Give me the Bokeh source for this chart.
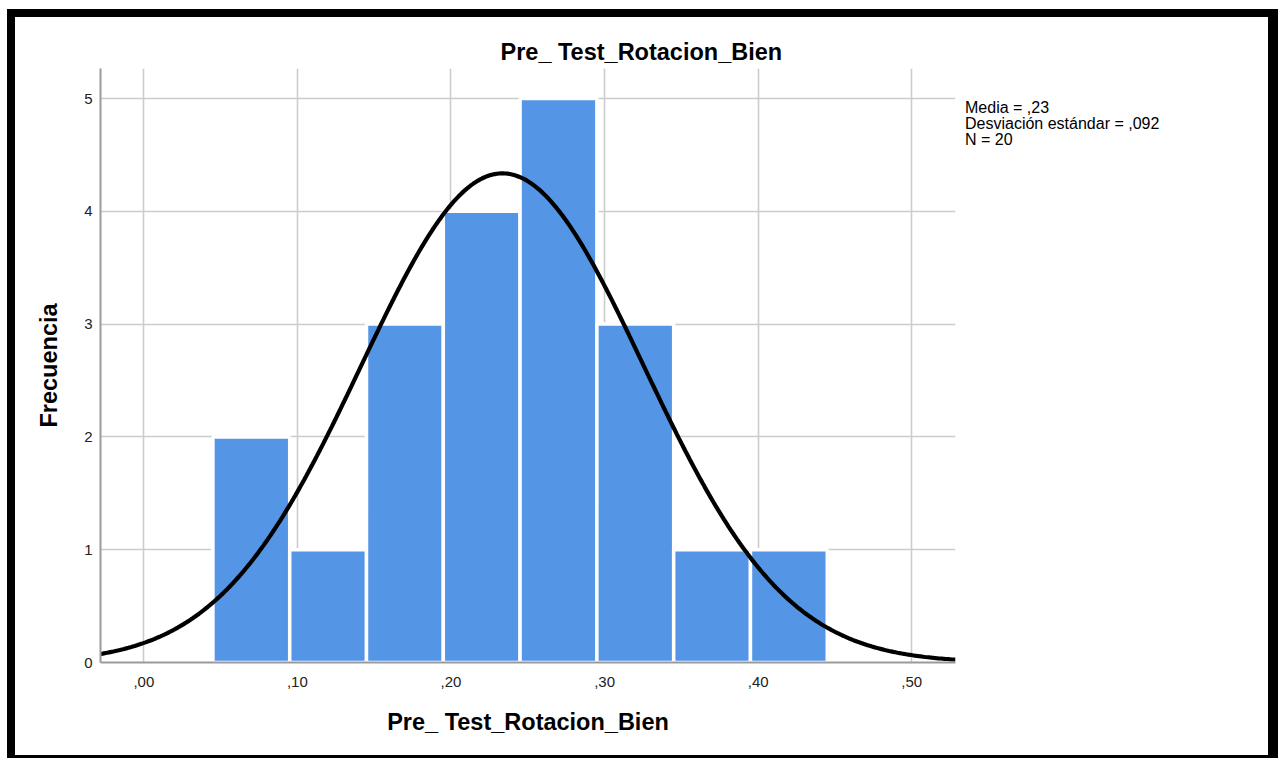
import numpy as np
from bokeh.plotting import figure
from bokeh.models import Range1d, FixedTicker, Div
from bokeh.embed import file_html
from bokeh.resources import INLINE

# ---- data ----
bin_edges = [0.045, 0.095, 0.145, 0.195, 0.245, 0.295, 0.345, 0.395, 0.445]
counts = [2, 1, 3, 4, 5, 3, 1, 1]
mean_val = 0.2335
sd_val = 0.092
n_val = 20
x_ticks = [0.0, 0.1, 0.2, 0.3, 0.4, 0.5]
x_tick_labels = [",00", ",10", ",20", ",30", ",40", ",50"]
y_ticks = [0, 1, 2, 3, 4, 5]
title_text = "Pre_ Test_Rotacion_Bien"
x_label = "Pre_ Test_Rotacion_Bien"
y_label = "Frecuencia"
stats_lines = ["Media = ,23", "Desviación estándar = ,092", "N = 20"]

FONT = "Liberation Sans"

x0, x1 = -0.0282, 0.5285
p = figure(width=1271, height=749, output_backend="svg", toolbar_location=None,
           x_range=Range1d(x0, x1), y_range=Range1d(0, 5.266),
           min_border_left=85, min_border_top=51, min_border_right=331, min_border_bottom=104,
           styles={"border-style": "solid", "border-color": "black",
                   "border-width": "8px 10px 3px 8px",
                   "margin-left": "7px", "margin-top": "9px"})
p.outline_line_color = None
p.background_fill_color = "white"
p.border_fill_color = "white"

# title
p.title.text = title_text
p.title.align = "left"
p.title.offset = 400
p.title.standoff = 8
p.title.text_font = FONT
p.title.text_font_size = "23.5px"
p.title.text_font_style = "bold"
p.title.text_color = "black"

# grids
p.xgrid.ticker = FixedTicker(ticks=x_ticks)
p.ygrid.ticker = FixedTicker(ticks=y_ticks)
for g in (p.xgrid, p.ygrid):
    g.grid_line_color = "#cccccc"
    g.grid_line_width = 1.6

# axes
p.xaxis.ticker = FixedTicker(ticks=x_ticks)
p.xaxis.major_label_overrides = {t: l for t, l in zip(x_ticks, x_tick_labels)}
p.yaxis.ticker = FixedTicker(ticks=y_ticks)
for ax in (p.xaxis, p.yaxis):
    ax.axis_line_color = "#9a9a9a"
    ax.axis_line_width = 2
    ax.major_tick_line_color = None
    ax.minor_tick_line_color = None
    ax.major_tick_in = 0
    ax.major_tick_out = 0
    ax.major_label_text_font = FONT
    ax.major_label_text_font_size = "15px"
    ax.major_label_text_color = "#222222"
    ax.axis_label_text_font = FONT
    ax.axis_label_text_font_size = "23.5px"
    ax.axis_label_text_font_style = "bold"
    ax.axis_label_text_color = "black"
p.xaxis.axis_label = x_label
p.yaxis.axis_label = y_label
p.xaxis.major_label_standoff = 14
p.xaxis.axis_label_standoff = 19
p.yaxis.major_label_standoff = 8
p.yaxis.axis_label_standoff = 19

# bars
p.quad(left=bin_edges[:-1], right=bin_edges[1:], bottom=[0] * len(counts), top=counts,
       fill_color="#5595e5", line_color="white", line_width=3.5)

# normal curve
bw = bin_edges[1] - bin_edges[0]
xs = np.linspace(x0, x1, 400)
ys = n_val * bw * np.exp(-0.5 * ((xs - mean_val) / sd_val) ** 2) / (sd_val * np.sqrt(2 * np.pi))
p.line(xs, ys, line_color="black", line_width=4.2)

# stats text (separate HTML root, positioned over the chart's right margin)
stats_html = ('<div style="font-family: \'Liberation Sans\', Arial, sans-serif; font-size: 16px; '
              'line-height: 16px; color: black; white-space: nowrap; margin: 0; padding: 0;">'
              + "<br>".join(stats_lines) + "</div>")
stats = Div(text=stats_html, width=300, height=60, margin=0,
            styles={"position": "absolute", "left": "965px", "top": "100px"})

open("out.html", "w").write(file_html([p, stats], INLINE))
